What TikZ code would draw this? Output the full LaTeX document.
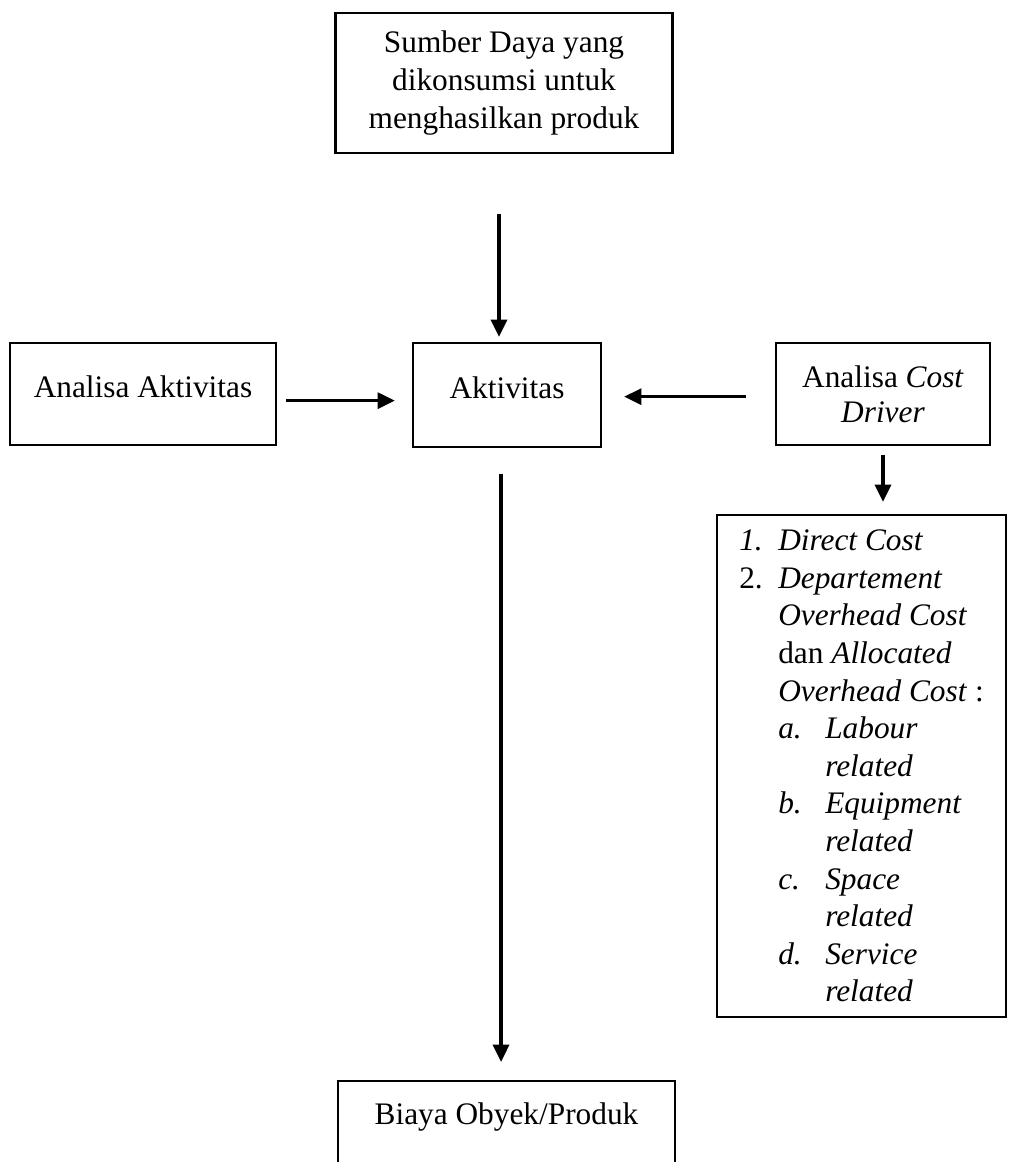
\documentclass[tikz,border=0pt]{standalone}
\usepackage{fontspec}
\setmainfont{Liberation Serif}
\usetikzlibrary{arrows.meta}

\newcommand{\itemlbl}[1]{\makebox[29.25pt][l]{#1}}
\newcommand{\sublbl}[1]{\makebox[35.25pt][l]{#1}}
\newcommand{\listind}{\hspace*{29.25pt}}
\newcommand{\listindd}{\hspace*{64.5pt}}

\begin{document}
\begin{tikzpicture}[x=0.75pt, y=-0.75pt,
    box/.style={draw, line width=1.7pt, align=center, inner sep=4pt,
        font=\fontsize{23.5}{28.2}\selectfont},
    onebox/.style={box, text height=17pt, text depth=12pt},
    conn/.style={-{Triangle[length=13pt,width=12pt]}, line width=2.6pt}]
    \useasboundingbox (0,0) rectangle (1008,1162);
    \clip (0,0) rectangle (1008,1162);

    % Boxes
    \node[box, minimum width=252.75pt, minimum height=105pt] (sumber) at (504,83)
        {Sumber Daya yang\\ dikonsumsi untuk\\ menghasilkan produk};
    \node[onebox, minimum width=199.5pt, minimum height=76.5pt] (anaakt) at (143,394)
        {Analisa Aktivitas};
    \node[onebox, minimum width=141pt, minimum height=78pt] (akt) at (507,395)
        {Aktivitas};
    \node[box, font=\fontsize{23.5}{26.5}\selectfont, minimum width=160.5pt, minimum height=76.5pt] (cd) at (883,394)
        {Analisa \textit{Cost}\\ \textit{Driver}};
    \node[box, align=left, minimum width=216.75pt, minimum height=376.5pt] (list) at (861.5,766)
        {\itemlbl{\textit{1.}}\textit{Direct Cost}\\
         \itemlbl{2.}\textit{Departement}\\
         \listind\textit{Overhead Cost}\\
         \listind dan \textit{Allocated}\\
         \listind\textit{Overhead Cost} :\\
         \listind\sublbl{\textit{a.}}\textit{Labour}\\
         \listindd\textit{related}\\
         \listind\sublbl{\textit{b.}}\textit{Equipment}\\
         \listindd\textit{related}\\
         \listind\sublbl{\textit{c.}}\textit{Space}\\
         \listindd\textit{related}\\
         \listind\sublbl{\textit{d.}}\textit{Service}\\
         \listindd\textit{related}};
    \node[box, anchor=north, minimum width=252.75pt, inner ysep=15.25pt,
        text height=17pt, text depth=80pt] (biaya) at (506.5,1080)
        {Biaya Obyek/Produk};

    % Arrows
    \draw[conn, shorten <=45pt, shorten >=3.75pt] ([xshift=-3.75pt]sumber.south) -- ([xshift=-3.75pt]sumber.south |- akt.north);
    \draw[conn, shorten <=6.75pt, shorten >=12.75pt] ([yshift=-5pt]anaakt.east) -- ([yshift=-5pt]anaakt.east -| akt.west);
    \draw[conn, shorten <=21.75pt, shorten >=16.5pt] ([yshift=-2pt]cd.west) -- ([yshift=-2pt]cd.west -| akt.east);
    \draw[conn, shorten <=19.5pt, shorten >=13.5pt] ([xshift=-4.5pt]akt.south) -- ([xshift=-4.5pt]akt.south |- biaya.north);
    \draw[conn, shorten <=6.75pt, shorten >=9pt] (cd.south) -- (cd.south |- list.north);
\end{tikzpicture}
\end{document}
